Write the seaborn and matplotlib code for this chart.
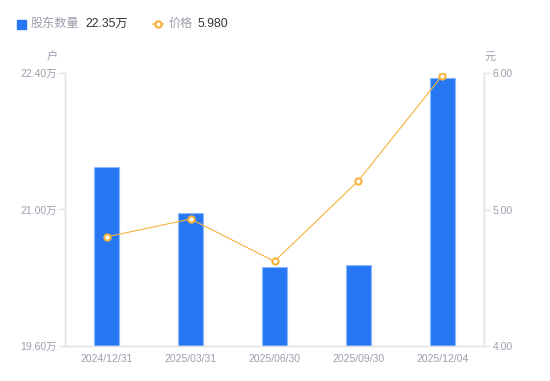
import numpy as np
import pandas as pd
import seaborn as sns
import matplotlib.pyplot as plt
from matplotlib.lines import Line2D
from matplotlib.patches import Rectangle

# data
dates = ['2024/12/31', '2025/03/31', '2025/06/30', '2025/09/30', '2025/12/04']
holders = [21.44, 20.96, 20.41, 20.43, 22.35]   # 万户
price = [4.80, 4.93, 4.62, 5.21, 5.98]           # 元
left_ticks = [19.60, 21.00, 22.40]
right_ticks = [4.00, 5.00, 6.00]

sns.set_style('white')
plt.rcParams['font.family'] = ['Liberation Sans', 'Noto Sans CJK SC', 'DejaVu Sans']

blue = '#2777F5'
orange = '#F7B23B'
grey = '#9C9EAC'
axis_grey = '#E3E4E8'

df = pd.DataFrame({'date': dates, 'holders': holders, 'price': price})

fig = plt.figure(figsize=(5.5, 3.81), dpi=100)
ax = fig.add_axes([65 / 550, 1 - 346 / 381, (484 - 65) / 550, (346 - 73) / 381])

sns.barplot(data=df, x='date', y='holders', ax=ax, color=blue, width=0.3,
            saturation=1, edgecolor='#8DB8FA', linewidth=0.8)
ax.set_ylim(left_ticks[0], left_ticks[-1])
ax.set_yticks(left_ticks)
ax.set_yticklabels([f'{v:.2f}万' for v in left_ticks])
ax.set_xlabel('')
ax.set_ylabel('')

ax2 = ax.twinx()
sns.lineplot(data=df, x='date', y='price', ax=ax2, color=orange, linewidth=0.8,
             marker='o', markersize=4.5, markerfacecolor='white',
             markeredgecolor=orange, markeredgewidth=1.5)
ax2.set_ylim(right_ticks[0], right_ticks[-1])
ax2.set_yticks(right_ticks)
ax2.set_yticklabels([f'{v:.2f}' for v in right_ticks])
ax2.set_xlabel('')
ax2.set_ylabel('')
ax.set_xlim(-0.5, len(dates) - 0.5)

for a in (ax, ax2):
    a.spines['top'].set_visible(False)
    for side in ('left', 'right', 'bottom'):
        a.spines[side].set_color(axis_grey)
        a.spines[side].set_linewidth(1)
    a.tick_params(axis='y', length=4, width=1, color=axis_grey,
                  labelcolor=grey, labelsize=7.5, pad=2)
    a.tick_params(axis='x', length=0, labelcolor=grey, labelsize=7.5, pad=6)

ax.text(-0.017, 1.059, '户', transform=ax.transAxes, ha='right', va='center',
        color=grey, fontsize=8)
ax2.text(1.002, 1.059, '元', transform=ax2.transAxes, ha='left', va='center',
         color=grey, fontsize=8)

# legend at top
fig.add_artist(Rectangle((17 / 550, 1 - 29 / 381), 9 / 550, 9 / 381,
                         transform=fig.transFigure, color=blue))
fig.text(31 / 550, 1 - 24 / 381, '股东数量', color=grey, fontsize=8.7, va='center')
fig.text(85 / 550, 1 - 24 / 381, f'{holders[-1]:.2f}万', color='#333333',
         fontsize=8.7, va='center')
fig.add_artist(Line2D([153 / 550, 163 / 550], [1 - 24 / 381, 1 - 24 / 381],
                      transform=fig.transFigure, color=orange, linewidth=1.2))
fig.add_artist(Line2D([158 / 550], [1 - 24 / 381], transform=fig.transFigure,
                      marker='o', markersize=4.5, markerfacecolor='white',
                      markeredgecolor=orange, markeredgewidth=1.6))
fig.text(169 / 550, 1 - 24 / 381, '价格', color=grey, fontsize=8.7, va='center')
fig.text(198 / 550, 1 - 24 / 381, f'{price[-1]:.3f}', color='#333333',
         fontsize=8.7, va='center')

fig.savefig('out.png', dpi=100)
